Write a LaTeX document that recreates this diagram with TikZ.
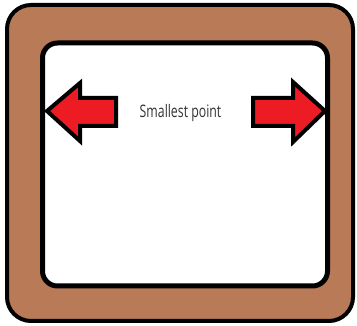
\documentclass[tikz,border=0pt]{standalone}
\usepackage{fontspec}
\setmainfont{Open Sans}
\usepackage{xcolor}
\usepackage{tikz}
\usetikzlibrary{positioning}
\definecolor{framebrown}{HTML}{B97A57}
\definecolor{arrowred}{HTML}{ED1C24}
\definecolor{textgray}{HTML}{333333}
\tikzset{
  frame/.style={draw=black, line width=4pt, rounded corners=24pt, fill=framebrown},
  screen/.style={draw=black, line width=5pt, rounded corners=15pt, fill=white},
  bigarrow/.style={draw=black, line width=4pt, line join=miter, fill=arrowred},
  label/.style={font=\fontsize{12.3}{14}\selectfont, text=textgray, inner sep=0pt, yscale=1.4, transform shape}
}
\begin{document}
\begin{tikzpicture}[x=1pt, y=-1pt]
  \useasboundingbox (0,0) rectangle (357,326);
  \draw[frame] (7,5) rectangle (353,321);
  \draw[screen] (42.5,43) rectangle (327.5,286);

  % left arrow
  \draw[bigarrow] (47,111) -- (80,83) -- (80,98) -- (116,98) -- (116,126) -- (80,126) -- (80,141) -- cycle;
  % right arrow
  \draw[bigarrow] (325,111) -- (293,82) -- (293,98) -- (253,98) -- (253,126) -- (293,126) -- (293,142) -- cycle;

  \node[label] (title) at (180.5,113) {Smallest point};
\end{tikzpicture}
\end{document}
